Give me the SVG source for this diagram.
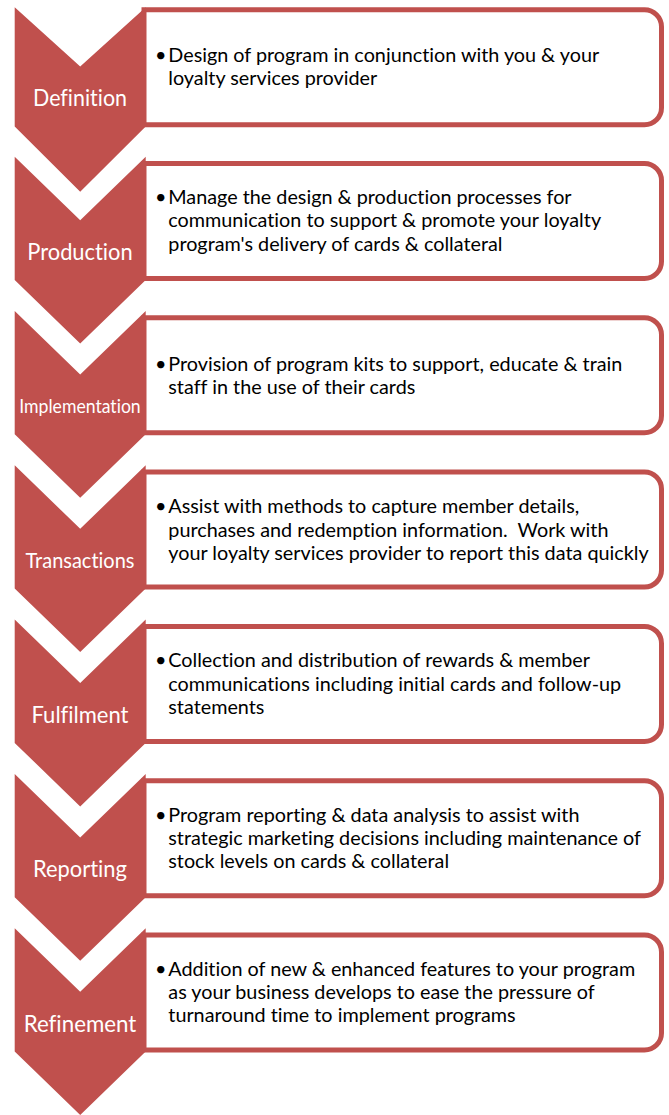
<svg xmlns="http://www.w3.org/2000/svg" width="669" height="1115" viewBox="0 0 669 1115">
<style>
.chev{fill:#C0504D;}
.box{fill:#FFFFFF;stroke:#C0504D;stroke-width:5;}
.lbl{font-family:Lato,"Open Sans",sans-serif;fill:#FFFFFF;text-anchor:middle;font-variant-ligatures:none;}
.txt{font-family:Lato,"Open Sans",sans-serif;font-size:19.8px;fill:#000000;font-variant-ligatures:none;}
.bul{font-family:Lato,"Open Sans",sans-serif;font-size:19.8px;fill:#000000;text-anchor:middle;}
</style>
<g id="node-definition">
<path class="box" d="M144,9.7 H644.5 A17,17 0 0 1 661.5,26.7 V107.7 A17,17 0 0 1 644.5,124.7 H144 Z"/>
<polygon class="chev" points="14.7,7.3 80.2,66.5 145.7,7.3 145.7,126.5 80.2,191.7 14.7,126.5"/>
<text class="lbl" x="80" y="106" font-size="23.5" textLength="94" lengthAdjust="spacingAndGlyphs">Definition</text>
<text class="bul" x="160.8" y="62.3">•</text>
<text class="txt" x="168.3" y="62.3">Design of program in conjunction with you &amp; your</text>
<text class="txt" x="168.3" y="85">loyalty services provider</text>
</g>
<g id="node-production">
<path class="box" d="M144,163.5 H644.5 A17,17 0 0 1 661.5,180.5 V261.5 A17,17 0 0 1 644.5,278.5 H144 Z"/>
<polygon class="chev" points="14.7,156.7 80.2,220.2 145.7,156.7 145.7,280 80.2,343.5 14.7,280"/>
<text class="lbl" x="80" y="260" font-size="23.5" textLength="105.4" lengthAdjust="spacingAndGlyphs">Production</text>
<text class="bul" x="160.8" y="204">•</text>
<text class="txt" x="168.3" y="204">Manage the design &amp; production processes for</text>
<text class="txt" x="168.3" y="227.3">communication to support &amp; promote your loyalty</text>
<text class="txt" x="168.3" y="250.6">program's delivery of cards &amp; collateral</text>
</g>
<g id="node-implementation">
<path class="box" d="M144,317.8 H644.5 A17,17 0 0 1 661.5,334.8 V415.8 A17,17 0 0 1 644.5,432.8 H144 Z"/>
<polygon class="chev" points="14.7,311 80.2,374.5 145.7,311 145.7,434.3 80.2,497.8 14.7,434.3"/>
<text class="lbl" x="80" y="413.3" font-size="18.5" textLength="121.4" lengthAdjust="spacingAndGlyphs">Implementation</text>
<text class="bul" x="160.8" y="370.8">•</text>
<text class="txt" x="168.3" y="370.8">Provision of program kits to support, educate &amp; train</text>
<text class="txt" x="168.3" y="394.1">staff in the use of their cards</text>
</g>
<g id="node-transactions">
<path class="box" d="M144,472.1 H644.5 A17,17 0 0 1 661.5,489.1 V570.1 A17,17 0 0 1 644.5,587.1 H144 Z"/>
<polygon class="chev" points="14.7,465.3 80.2,528.8 145.7,465.3 145.7,588.6 80.2,652.1 14.7,588.6"/>
<text class="lbl" x="80" y="567.8" font-size="21" textLength="109" lengthAdjust="spacingAndGlyphs">Transactions</text>
<text class="bul" x="160.8" y="513.3">•</text>
<text class="txt" x="168.3" y="513.3">Assist with methods to capture member details,</text>
<text class="txt" x="168.3" y="536.6" xml:space="preserve">purchases and redemption information.  Work with</text>
<text class="txt" x="168.3" y="559.9">your loyalty services provider to report this data quickly</text>
</g>
<g id="node-fulfilment">
<path class="box" d="M144,626.4 H644.5 A17,17 0 0 1 661.5,643.4 V724.4 A17,17 0 0 1 644.5,741.4 H144 Z"/>
<polygon class="chev" points="14.7,619.6 80.2,683.1 145.7,619.6 145.7,742.9 80.2,806.4 14.7,742.9"/>
<text class="lbl" x="80" y="722.9" font-size="23.5" textLength="97" lengthAdjust="spacingAndGlyphs">Fulfilment</text>
<text class="bul" x="160.8" y="667.4">•</text>
<text class="txt" x="168.3" y="667.4">Collection and distribution of rewards &amp; member</text>
<text class="txt" x="168.3" y="690.7">communications including initial cards and follow-up</text>
<text class="txt" x="168.3" y="714">statements</text>
</g>
<g id="node-reporting">
<path class="box" d="M144,780.7 H644.5 A17,17 0 0 1 661.5,797.7 V878.7 A17,17 0 0 1 644.5,895.7 H144 Z"/>
<polygon class="chev" points="14.7,773.9 80.2,837.4 145.7,773.9 145.7,897.2 80.2,960.7 14.7,897.2"/>
<text class="lbl" x="80" y="877.2" font-size="23.5" textLength="94" lengthAdjust="spacingAndGlyphs">Reporting</text>
<text class="bul" x="160.8" y="821.7">•</text>
<text class="txt" x="168.3" y="821.7">Program reporting &amp; data analysis to assist with</text>
<text class="txt" x="168.3" y="845">strategic marketing decisions including maintenance of</text>
<text class="txt" x="168.3" y="868.3">stock levels on cards &amp; collateral</text>
</g>
<g id="node-refinement">
<path class="box" d="M144,935 H644.5 A17,17 0 0 1 661.5,952 V1033 A17,17 0 0 1 644.5,1050 H144 Z"/>
<polygon class="chev" points="14.7,928.2 80.2,991.7 145.7,928.2 145.7,1051.5 80.2,1115 14.7,1051.5"/>
<text class="lbl" x="80" y="1031.5" font-size="23.5" textLength="112.7" lengthAdjust="spacingAndGlyphs">Refinement</text>
<text class="bul" x="160.8" y="975.5">•</text>
<text class="txt" x="168.3" y="975.5">Addition of new &amp; enhanced features to your program</text>
<text class="txt" x="168.3" y="998.8">as your business develops to ease the pressure of</text>
<text class="txt" x="168.3" y="1022.1">turnaround time to implement programs</text>
</g>
<g id="connectors"></g>
</svg>
